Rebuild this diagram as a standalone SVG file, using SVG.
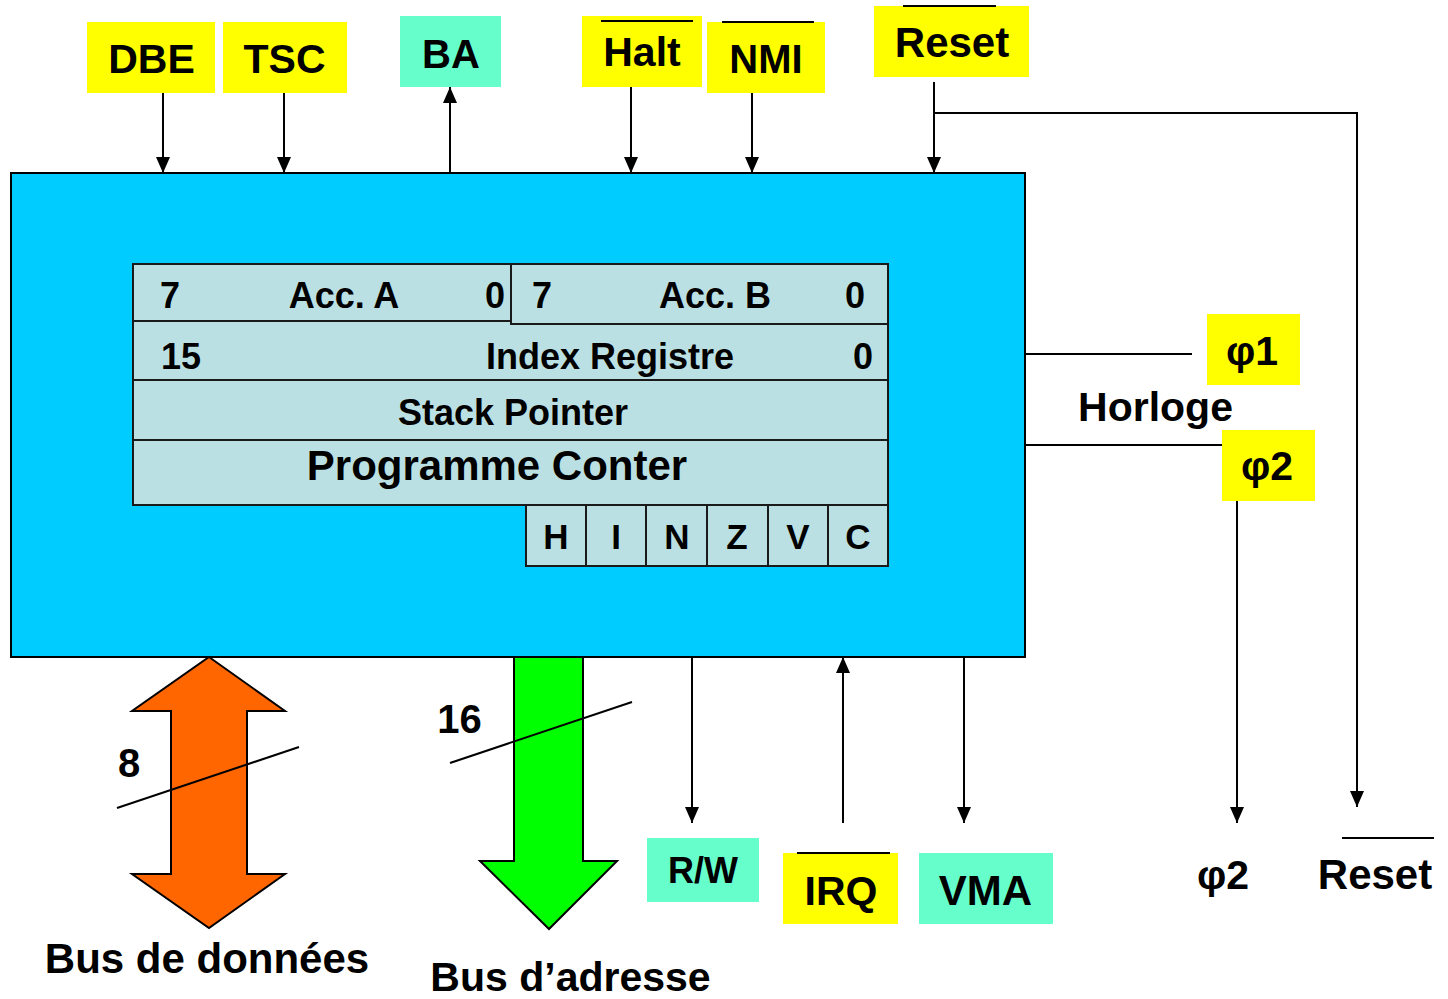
<svg xmlns="http://www.w3.org/2000/svg" width="1448" height="999" viewBox="0 0 1448 999">
<style>
text{font-family:"Liberation Sans",Arial,sans-serif;font-weight:bold;fill:#000}
.c{text-anchor:middle}
.y{fill:#FFFF00}
.a{fill:#66FFCC}
.reg{fill:#BBE0E3;stroke:#1a1a1a;stroke-width:2}
.ln{stroke:#000;stroke-width:2;fill:none}
.ov{stroke:#000;stroke-width:2}
</style>
<defs>
<marker id="arr" markerUnits="userSpaceOnUse" markerWidth="18" markerHeight="14" refX="16" refY="7" orient="auto" viewBox="0 0 18 14">
<path d="M0,0 L16,7 L0,14 Z" fill="#000"/>
</marker>
</defs>

<g id="cpu">
<rect x="11" y="173" width="1014" height="484" fill="#00CCFF" stroke="#000" stroke-width="2"/>
</g>

<g id="registers">
<rect class="reg" x="133" y="264" width="378" height="57"/>
<rect class="reg" x="511" y="264" width="377" height="60"/>
<path class="reg" d="M133,321 H511 V324 H888 V380 H133 Z"/>
<rect class="reg" x="133" y="380" width="755" height="60"/>
<rect class="reg" x="133" y="440" width="755" height="65"/>
<text x="160" y="308" font-size="36">7</text>
<text class="c" x="344" y="308" font-size="36">Acc. A</text>
<text class="c" x="495" y="308" font-size="36">0</text>
<text x="532" y="308" font-size="36">7</text>
<text class="c" x="715" y="308" font-size="36">Acc. B</text>
<text class="c" x="855" y="308" font-size="36">0</text>
<text x="161" y="369" font-size="36">15</text>
<text class="c" x="610" y="369" font-size="36">Index Registre</text>
<text class="c" x="863" y="369" font-size="36">0</text>
<text class="c" x="513" y="425" font-size="36">Stack Pointer</text>
<text class="c" x="497" y="480" font-size="42">Programme Conter</text>
</g>

<g id="flags">
<rect class="reg" x="526" y="505" width="60" height="61"/>
<rect class="reg" x="586" y="505" width="60" height="61"/>
<rect class="reg" x="646" y="505" width="61" height="61"/>
<rect class="reg" x="707" y="505" width="61" height="61"/>
<rect class="reg" x="768" y="505" width="60" height="61"/>
<rect class="reg" x="828" y="505" width="60" height="61"/>
<text class="c" x="556" y="549" font-size="35">H</text>
<text class="c" x="616" y="549" font-size="35">I</text>
<text class="c" x="677" y="549" font-size="35">N</text>
<text class="c" x="737" y="549" font-size="35">Z</text>
<text class="c" x="798" y="549" font-size="35">V</text>
<text class="c" x="858" y="549" font-size="35">C</text>
</g>

<g id="DBE"><rect class="y" x="87" y="22" width="128" height="71"/><text class="c" x="151.5" y="73" font-size="41">DBE</text></g>
<g id="TSC"><rect class="y" x="223" y="22" width="124" height="71"/><text class="c" x="284.5" y="73" font-size="41">TSC</text></g>
<g id="BA"><rect class="a" x="400" y="16" width="101" height="71"/><text class="c" x="451" y="68" font-size="40">BA</text></g>
<g id="Halt"><rect class="y" x="582" y="16" width="120" height="71"/><line class="ov" x1="601" y1="21" x2="693" y2="21"/><text class="c" x="642" y="66" font-size="41">Halt</text></g>
<g id="NMI"><rect class="y" x="707" y="22" width="118" height="71"/><line class="ov" x1="722" y1="22" x2="814" y2="22"/><text class="c" x="766" y="73" font-size="40">NMI</text></g>
<g id="ResetTop"><rect class="y" x="874" y="6" width="155" height="71"/><line class="ov" x1="903" y1="6" x2="996" y2="6"/><text class="c" x="952" y="57" font-size="42">Reset</text></g>

<g id="phi1"><rect class="y" x="1207" y="314" width="93" height="71"/><text class="c" x="1252" y="365" font-size="41">φ1</text></g>
<g id="phi2"><rect class="y" x="1222" y="430" width="93" height="71"/><text class="c" x="1267" y="480" font-size="41">φ2</text></g>
<g id="horloge"><text class="c" x="1155.5" y="421" font-size="41">Horloge</text></g>

<g id="RW"><rect class="a" x="647" y="838" width="112" height="64"/><text class="c" x="703" y="883" font-size="36">R/W</text></g>
<g id="IRQ"><rect class="y" x="783" y="853" width="115" height="71"/><line class="ov" x1="797" y1="853" x2="890" y2="853"/><text class="c" x="841" y="905" font-size="41">IRQ</text></g>
<g id="VMA"><rect class="a" x="919" y="853" width="134" height="71"/><text class="c" x="985.5" y="905" font-size="42">VMA</text></g>
<g id="phi2out"><text class="c" x="1223" y="889" font-size="41">φ2</text></g>
<g id="ResetOut"><line class="ov" x1="1342" y1="838" x2="1434" y2="838"/><text class="c" x="1375" y="889" font-size="42">Reset</text></g>

<g id="databus">
<path d="M209,657 L285,711 L247,711 L247,874 L285,874 L209,928 L132,874 L171,874 L171,711 L132,711 Z" fill="#FF6600" stroke="#000" stroke-width="2"/>
<line class="ln" x1="117" y1="808" x2="299" y2="747"/>
<text class="c" x="129" y="777" font-size="40">8</text>
<text class="c" x="207" y="973" font-size="42">Bus de données</text>
</g>

<g id="addrbus">
<path d="M514,657 L583,657 L583,861 L617,861 L549,929 L480,861 L514,861 Z" fill="#00FF00" stroke="#000" stroke-width="2"/>
<line class="ln" x1="450" y1="763" x2="632" y2="702"/>
<text class="c" x="459.5" y="733" font-size="40">16</text>
<text class="c" x="570.5" y="991" font-size="41">Bus d’adresse</text>
</g>

<g id="connectors">
<line class="ln" x1="163" y1="93" x2="163" y2="173" marker-end="url(#arr)"/>
<line class="ln" x1="284" y1="93" x2="284" y2="173" marker-end="url(#arr)"/>
<line class="ln" x1="450" y1="173" x2="450" y2="87" marker-end="url(#arr)"/>
<line class="ln" x1="631" y1="87" x2="631" y2="173" marker-end="url(#arr)"/>
<line class="ln" x1="752" y1="93" x2="752" y2="173" marker-end="url(#arr)"/>
<line class="ln" x1="934" y1="82" x2="934" y2="173" marker-end="url(#arr)"/>
<polyline class="ln" points="934,113 1357,113 1357,807" marker-end="url(#arr)"/>
<line class="ln" x1="1025" y1="354" x2="1192" y2="354"/>
<line class="ln" x1="1025" y1="445" x2="1222" y2="445"/>
<line class="ln" x1="1237" y1="501" x2="1237" y2="823" marker-end="url(#arr)"/>
<line class="ln" x1="692" y1="657" x2="692" y2="823" marker-end="url(#arr)"/>
<line class="ln" x1="843" y1="823" x2="843" y2="657" marker-end="url(#arr)"/>
<line class="ln" x1="964" y1="657" x2="964" y2="823" marker-end="url(#arr)"/>
</g>
</svg>
